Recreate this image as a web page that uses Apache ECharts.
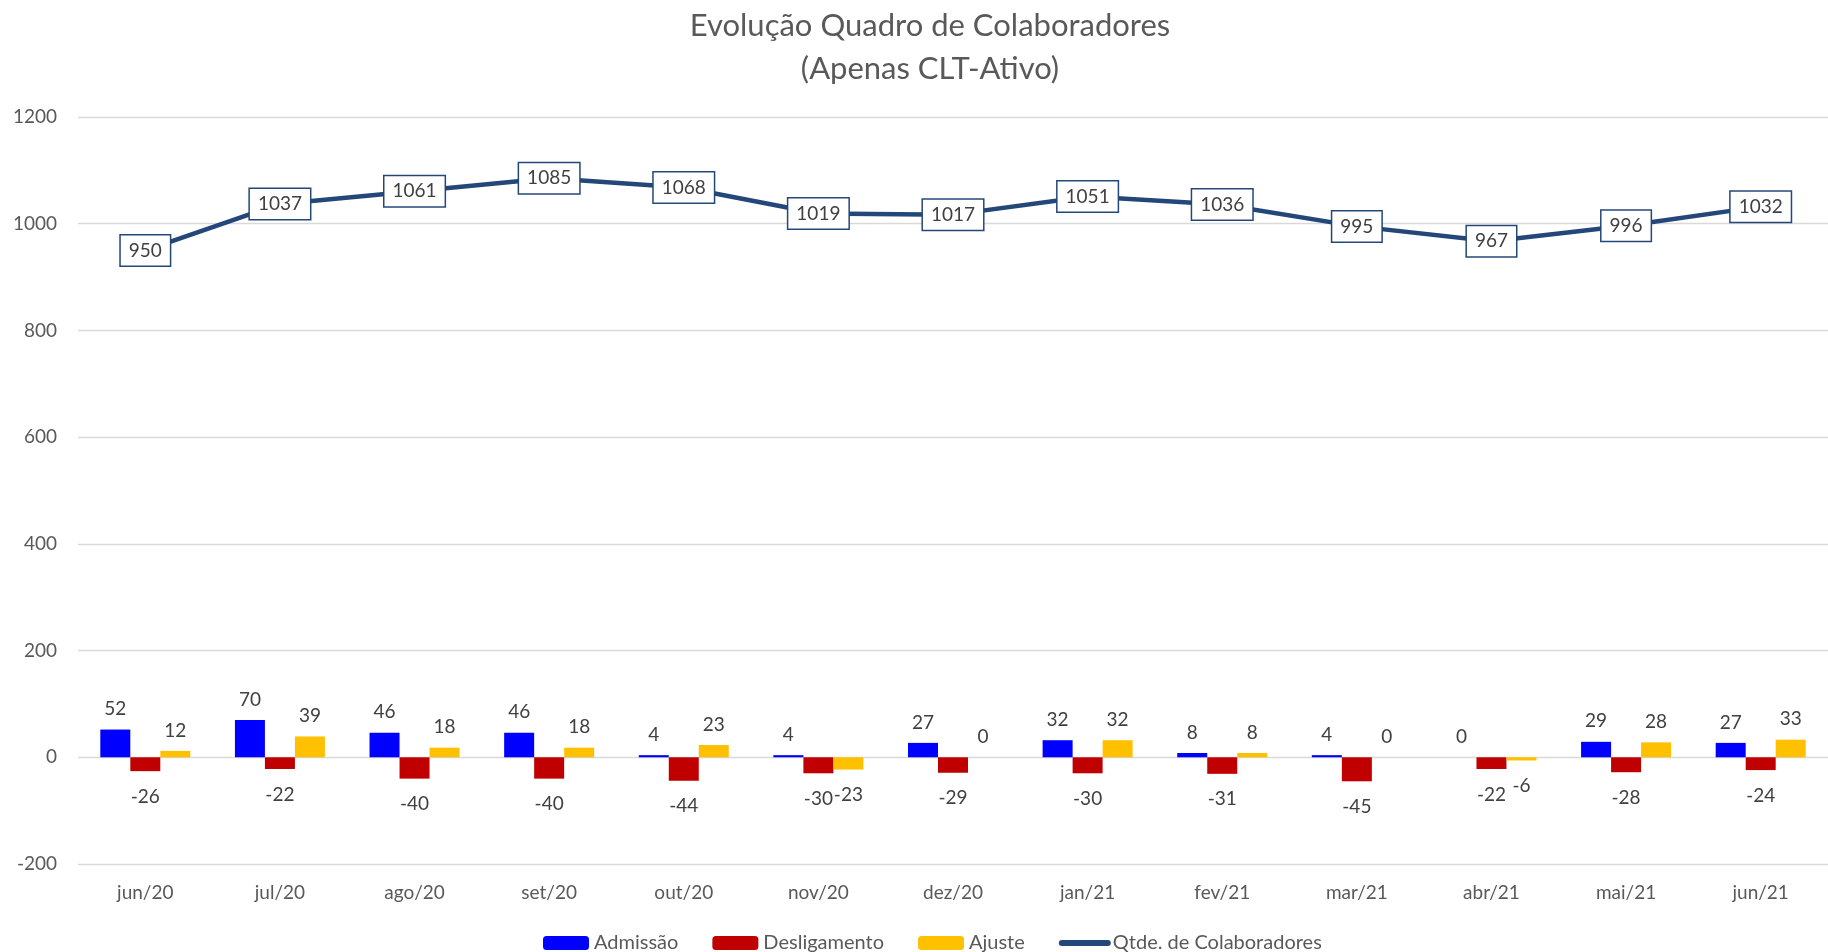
<!DOCTYPE html>
<html>
  <head>
    <meta charset="utf-8">
    <title>Evolução Quadro de Colaboradores</title>
    <script src="https://cdn.jsdelivr.net/npm/echarts@6/dist/echarts.min.js" charset="utf-8"></script>
    <style media="screen">
      html, body{
        margin: 0;
        padding: 0;
        background: #fff;
      }
      #main{
        width: 1828px;
        height: 952px;
      }
    </style>
  </head>
  <body>
    <div id="main"></div>
    <script type="text/javascript">
      var meses = ['jun/20', 'jul/20', 'ago/20', 'set/20', 'out/20', 'nov/20', 'dez/20', 'jan/21', 'fev/21', 'mar/21', 'abr/21', 'mai/21', 'jun/21'];
      var admissao = [52, 70, 46, 46, 4, 4, 27, 32, 8, 4, 0, 29, 27];
      var desligamento = [-26, -22, -40, -40, -44, -30, -29, -30, -31, -45, -22, -28, -24];
      var ajuste = [12, 39, 18, 18, 23, -23, 0, 32, 8, 0, -6, 28, 33];
      var qtde = [950, 1037, 1061, 1085, 1068, 1019, 1017, 1051, 1036, 995, 967, 996, 1032];

      var fonte = 'Lato, "Noto Sans", sans-serif';
      var corTexto = '#404040';
      var corLinha = '#24477a';

      // rotulo em cima se positivo, embaixo se negativo
      function comRotulo(arr){
        return arr.map(function (v) {
          return {
            value: v,
            label: v < 0 ? {position: 'bottom', distance: 16} : {position: 'top', distance: 11}
          };
        });
      }

      var rotuloBarra = {
        show: true,
        color: corTexto,
        fontSize: 19,
        fontFamily: fonte
      };

      var myChart = echarts.init(document.getElementById('main'));
      var option = {
        animation: false,
        textStyle: {fontFamily: fonte},
        title: {
          text: 'Evolução Quadro de Colaboradores\n(Apenas CLT-Ativo)',
          left: 930,
          top: 4,
          textAlign: 'center',
          padding: 0,
          textStyle: {
            color: '#595959',
            fontSize: 31,
            fontWeight: 'normal',
            lineHeight: 43,
            fontFamily: fonte
          }
        },
        legend: {
          left: 538,
          top: 928,
          itemWidth: 46,
          itemHeight: 14,
          itemGap: 34,
          textStyle: {color: '#595959', fontSize: 20, fontFamily: fonte},
          data: [
            'Admissão',
            'Desligamento',
            'Ajuste',
            {name: 'Qtde. de Colaboradores', itemStyle: {opacity: 0}, lineStyle: {width: 6, cap: 'round'}}
          ]
        },
        grid: {
          left: 78,
          top: 117,
          width: 1757,
          bottom: 88
        },
        xAxis: {
          type: 'category',
          data: meses,
          axisLine: {show: false, onZero: false},
          axisTick: {show: false},
          axisLabel: {color: '#595959', fontSize: 19, margin: 19, fontFamily: fonte}
        },
        yAxis: {
          type: 'value',
          min: -200,
          max: 1200,
          interval: 200,
          axisLine: {show: false},
          axisTick: {show: false},
          axisLabel: {
            color: '#595959',
            fontSize: 19,
            margin: 21,
            fontFamily: fonte,
            formatter: function (v) { return String(v); }
          },
          splitLine: {lineStyle: {color: '#d9d9d9', width: 1.3}}
        },
        series: [
          {
            name: 'Admissão',
            type: 'bar',
            barWidth: 30,
            barGap: '0%',
            itemStyle: {color: '#0000ff'},
            label: rotuloBarra,
            data: comRotulo(admissao)
          },
          {
            name: 'Desligamento',
            type: 'bar',
            barWidth: 30,
            barGap: '0%',
            itemStyle: {color: '#c00000'},
            label: rotuloBarra,
            data: comRotulo(desligamento)
          },
          {
            name: 'Ajuste',
            type: 'bar',
            barWidth: 30,
            barGap: '0%',
            itemStyle: {color: '#ffc000'},
            label: rotuloBarra,
            data: comRotulo(ajuste)
          },
          {
            name: 'Qtde. de Colaboradores',
            type: 'line',
            symbol: 'circle',
            symbolSize: 1,
            z: 5,
            lineStyle: {color: corLinha, width: 4.5},
            itemStyle: {color: corLinha},
            label: {
              show: true,
              position: 'inside',
              color: corTexto,
              fontSize: 19,
              fontFamily: fonte,
              backgroundColor: '#fff',
              borderColor: corLinha,
              borderWidth: 1.5,
              padding: [6, 8, 5, 8]
            },
            data: qtde
          }
        ]
      };
      myChart.setOption(option);
    </script>
  </body>
</html>
